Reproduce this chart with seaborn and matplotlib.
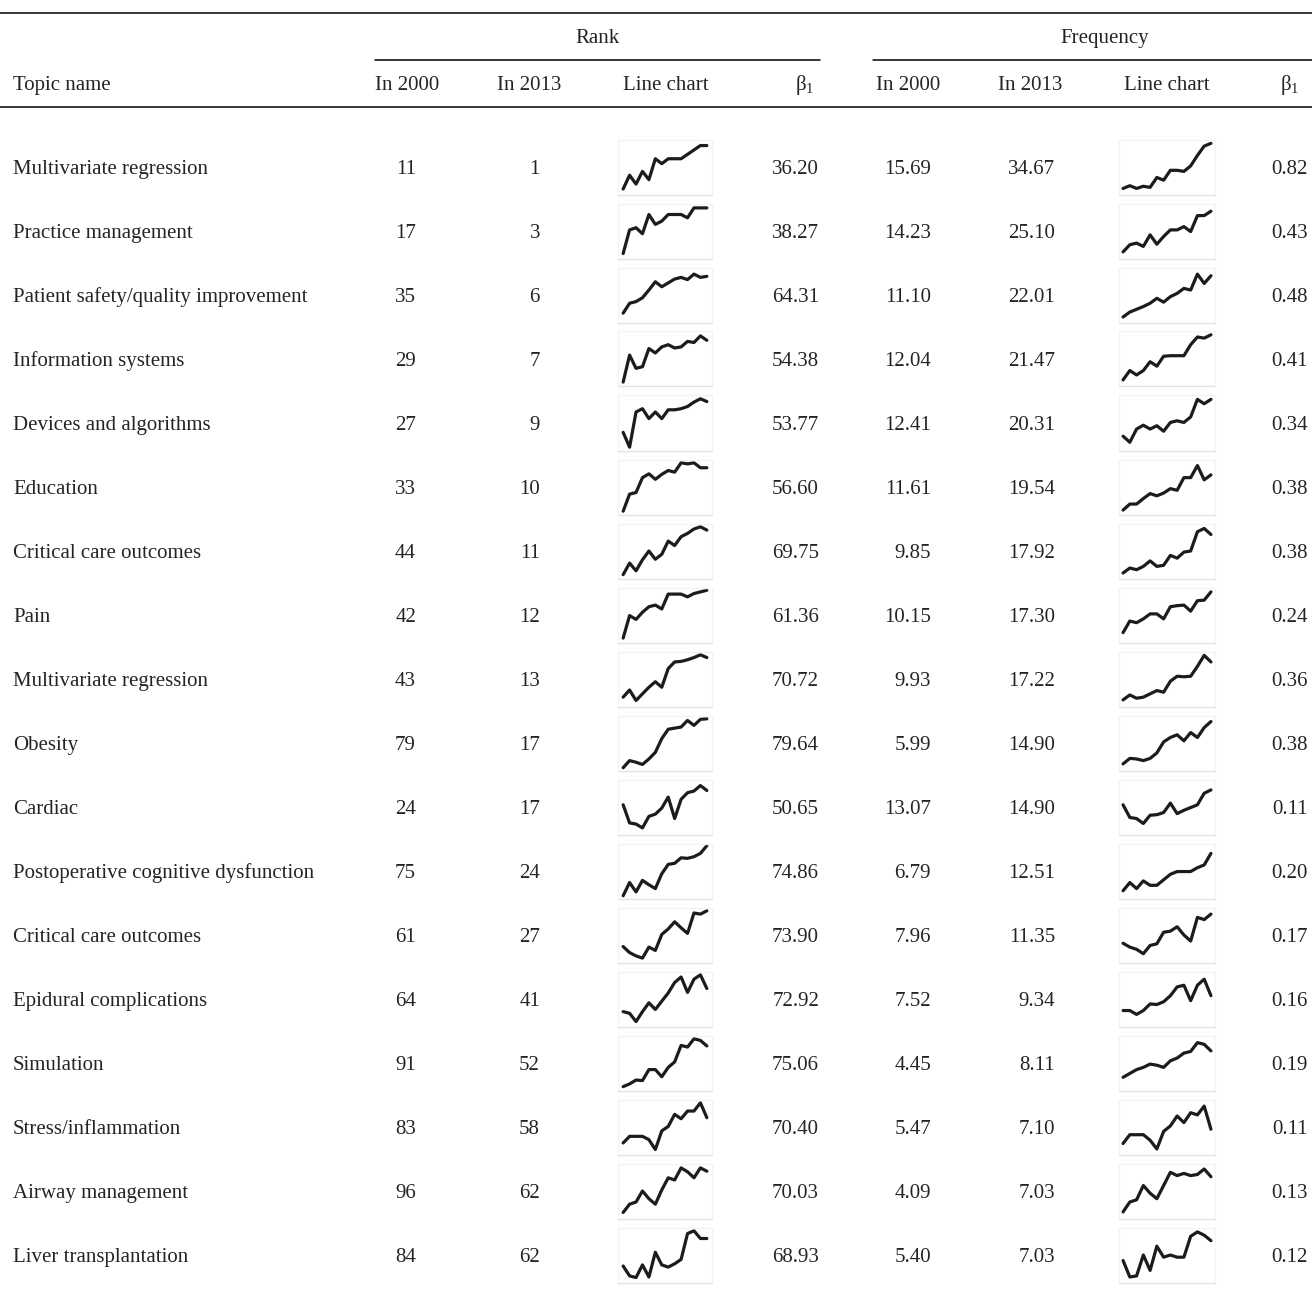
import matplotlib
matplotlib.use("Agg")
import matplotlib.pyplot as plt
import seaborn as sns

topics = ["Multivariate regression", "Practice management", "Patient safety/quality improvement",
          "Information systems", "Devices and algorithms", "Education", "Critical care outcomes",
          "Pain", "Multivariate regression", "Obesity", "Cardiac",
          "Postoperative cognitive dysfunction", "Critical care outcomes", "Epidural complications",
          "Simulation", "Stress/inflammation", "Airway management", "Liver transplantation"]

rank_2000 = [11, 17, 35, 29, 27, 33, 44, 42, 43, 79, 24, 75, 61, 64, 91, 83, 96, 84]
rank_2013 = [1, 3, 6, 7, 9, 10, 11, 12, 13, 17, 17, 24, 27, 41, 52, 58, 62, 62]
rank_beta = ["36.20", "38.27", "64.31", "54.38", "53.77", "56.60", "69.75", "61.36", "70.72",
             "79.64", "50.65", "74.86", "73.90", "72.92", "75.06", "70.40", "70.03", "68.93"]
freq_2000 = ["15.69", "14.23", "11.10", "12.04", "12.41", "11.61", "9.85", "10.15", "9.93",
             "5.99", "13.07", "6.79", "7.96", "7.52", "4.45", "5.47", "4.09", "5.40"]
freq_2013 = ["34.67", "25.10", "22.01", "21.47", "20.31", "19.54", "17.92", "17.30", "17.22",
             "14.90", "14.90", "12.51", "11.35", "9.34", "8.11", "7.10", "7.03", "7.03"]
freq_beta = ["0.82", "0.43", "0.48", "0.41", "0.34", "0.38", "0.38", "0.24", "0.36",
             "0.38", "0.11", "0.20", "0.17", "0.16", "0.19", "0.11", "0.13", "0.12"]

years = list(range(2000, 2014))

# sparkline heights (0 = bottom of box, 10 = top)
rank_lines = [
    [1.0, 3.5, 1.9, 4.2, 2.7, 6.5, 5.6, 6.5, 6.5, 6.5, 7.3, 8.1, 8.9, 8.9],
    [0.9, 5.2, 5.6, 4.5, 8.0, 6.2, 6.8, 8.0, 8.0, 8.0, 7.4, 9.2, 9.2, 9.2],
    [1.7, 3.5, 3.8, 4.5, 5.9, 7.4, 6.5, 7.2, 7.9, 8.2, 7.8, 8.8, 8.2, 8.4],
    [0.8, 5.7, 3.3, 3.6, 6.9, 6.1, 7.2, 7.6, 7.0, 7.2, 8.2, 8.0, 9.2, 8.4],
    [3.3, 0.6, 7.0, 7.6, 5.8, 7.0, 5.8, 7.4, 7.4, 7.6, 8.0, 8.8, 9.4, 8.9],
    [0.6, 3.7, 4.0, 6.7, 7.4, 6.4, 7.3, 8.0, 7.7, 9.4, 9.2, 9.4, 8.5, 8.5],
    [0.7, 2.8, 1.4, 3.4, 5.0, 3.5, 4.4, 6.8, 6.0, 7.6, 8.2, 9.0, 9.4, 8.8],
    [0.8, 4.9, 4.2, 5.5, 6.5, 6.8, 6.1, 8.8, 8.8, 8.8, 8.3, 8.9, 9.2, 9.5],
    [1.7, 3.0, 1.1, 2.3, 3.5, 4.5, 3.5, 6.9, 8.1, 8.2, 8.5, 8.9, 9.4, 8.9],
    [0.5, 1.8, 1.5, 1.1, 2.1, 3.3, 5.8, 7.5, 7.7, 7.9, 9.1, 8.2, 9.3, 9.4],
    [5.4, 2.1, 1.9, 1.2, 3.3, 3.7, 4.8, 6.8, 2.9, 6.4, 7.6, 7.9, 8.9, 8.0],
    [0.5, 2.9, 1.2, 3.3, 2.5, 1.8, 4.5, 6.2, 6.4, 7.4, 7.3, 7.6, 8.2, 9.6],
    [2.9, 1.8, 1.2, 0.8, 2.8, 2.2, 5.1, 6.1, 7.4, 6.3, 5.3, 9.0, 8.8, 9.4],
    [2.7, 2.4, 0.9, 2.7, 4.3, 3.1, 4.6, 6.1, 8.0, 9.0, 6.2, 8.6, 9.4, 6.9],
    [0.7, 1.2, 1.9, 1.8, 3.8, 3.8, 2.5, 4.2, 5.2, 8.2, 7.9, 9.4, 9.1, 8.1],
    [2.1, 3.3, 3.3, 3.3, 2.7, 0.9, 4.3, 5.1, 7.3, 6.5, 7.9, 7.9, 9.4, 6.7],
    [1.1, 2.6, 3.0, 5.0, 3.6, 2.6, 5.2, 7.4, 7.0, 9.2, 8.5, 7.4, 9.2, 8.6],
    [3.0, 1.2, 0.9, 3.2, 1.0, 5.5, 3.2, 2.8, 3.4, 4.2, 8.9, 9.4, 8.0, 8.0],
]

freq_lines = [
    [1.1, 1.6, 1.1, 1.5, 1.3, 3.1, 2.6, 4.4, 4.4, 4.2, 5.2, 7.1, 8.8, 9.3],
    [1.2, 2.5, 2.8, 2.2, 4.3, 2.6, 4.0, 5.2, 5.2, 5.8, 4.9, 7.8, 7.8, 8.6],
    [1.0, 1.9, 2.4, 2.9, 3.5, 4.4, 3.7, 4.7, 5.3, 6.2, 5.9, 8.8, 7.1, 8.5],
    [1.2, 2.9, 2.1, 2.9, 4.5, 3.7, 5.5, 5.6, 5.6, 5.6, 7.6, 9.0, 8.8, 9.4],
    [2.6, 1.5, 3.9, 4.6, 3.9, 4.5, 3.5, 5.1, 5.4, 5.1, 6.1, 9.3, 8.5, 9.3],
    [0.8, 1.9, 1.9, 2.9, 3.8, 3.4, 3.9, 4.7, 4.4, 6.7, 6.7, 8.9, 6.3, 7.2],
    [1.0, 1.9, 1.6, 2.2, 3.2, 2.2, 2.4, 4.2, 3.7, 4.8, 5.0, 8.5, 9.1, 8.0],
    [1.8, 3.9, 3.6, 4.3, 5.2, 5.2, 4.3, 6.5, 6.7, 6.8, 5.7, 7.6, 7.7, 9.2],
    [1.2, 2.1, 1.5, 1.7, 2.3, 2.9, 2.6, 4.6, 5.5, 5.4, 5.5, 7.3, 9.3, 8.1],
    [1.2, 2.2, 2.1, 1.8, 2.2, 3.2, 5.2, 6.0, 6.5, 5.4, 6.9, 6.0, 7.8, 8.9],
    [5.4, 3.1, 2.9, 2.0, 3.5, 3.6, 4.0, 5.7, 3.8, 4.4, 4.9, 5.4, 7.5, 8.1],
    [1.4, 2.9, 1.8, 3.2, 2.4, 2.4, 3.4, 4.4, 4.9, 4.9, 4.9, 5.6, 6.1, 8.2],
    [3.5, 2.8, 2.4, 1.6, 3.1, 3.4, 5.5, 5.7, 6.5, 5.0, 3.9, 8.2, 7.8, 8.8],
    [2.9, 2.9, 2.2, 2.9, 4.1, 4.0, 4.5, 5.6, 7.2, 7.5, 4.7, 7.5, 8.6, 5.6],
    [2.4, 3.1, 3.8, 4.2, 4.8, 4.6, 4.2, 5.4, 5.9, 6.8, 7.1, 8.7, 8.4, 7.2],
    [2.0, 3.6, 3.6, 3.6, 2.6, 1.0, 4.2, 5.2, 7.0, 5.8, 7.6, 7.2, 8.8, 4.6],
    [1.2, 3.0, 3.4, 6.0, 4.6, 3.6, 6.0, 8.4, 7.8, 8.2, 7.8, 8.0, 9.0, 7.6],
    [4.0, 1.0, 1.2, 5.0, 2.2, 6.6, 4.6, 5.0, 4.6, 4.6, 8.4, 9.2, 8.6, 7.6],
]

sns.set_style("white")
plt.rcParams['font.family'] = ['Liberation Serif', 'DejaVu Serif']
plt.rcParams['mathtext.fontset'] = 'custom'
plt.rcParams['mathtext.rm'] = 'Liberation Serif'

W, H = 1312, 1299
fig = plt.figure(figsize=(W / 100, H / 100), dpi=100)
ink = '#262324'
fs = 15


def fx(x):
    return x / W


def fy(y):
    return 1 - y / H


def txt(x, y, s, ha='center'):
    fig.text(fx(x), fy(y), s, ha=ha, va='baseline', fontsize=fs, color=ink)


def rule(x0, x1, y, lw=1.1):
    fig.add_artist(plt.Line2D([fx(x0), fx(x1)], [fy(y), fy(y)], color='black', lw=lw))


# rules
rule(0, W, 13)
rule(375, 820, 60)
rule(873, W, 60)
rule(0, W, 107)

# headers
beta = r"$\mathregular{\beta_1}$"
txt(598, 43, "Rank")
txt(1105, 43, "Frequency")
txt(13, 90, "Topic name", ha='left')
for cx, lab in [(407, "In 2000"), (529, "In 2013"), (666, "Line chart"), (805, beta),
                (908, "In 2000"), (1030, "In 2013"), (1167, "Line chart"), (1290, beta)]:
    txt(cx, 90, lab)


def spark(x0, x1, yc, vals, pad):
    ax = fig.add_axes([fx(x0), fy(yc + 27.5), (x1 - x0) / W, 55 / H])
    sns.lineplot(x=years, y=vals, ax=ax, color='#1c1c1c', linewidth=2.3)
    ax.set_xlim(years[0] - pad, years[-1] + pad)
    ax.set_ylim(0, 10)
    ax.set_xticks([])
    ax.set_yticks([])
    ax.set_xlabel("")
    ax.set_ylabel("")
    for side, sp in ax.spines.items():
        sp.set_visible(True)
        sp.set_linewidth(1.0)
        sp.set_color('#e3e3e3' if side == 'bottom' else '#f4f4f4')


for i, name in enumerate(topics):
    yc = 167 + 64 * i
    yb = yc + 7
    txt(13, yb, name, ha='left')
    txt(416, yb, str(rank_2000[i]), ha='right')
    txt(540, yb, str(rank_2013[i]), ha='right')
    txt(819, yb, rank_beta[i], ha='right')
    txt(931, yb, freq_2000[i], ha='right')
    txt(1055, yb, freq_2013[i], ha='right')
    txt(1308, yb, freq_beta[i], ha='right')
    spark(618, 712, yc, rank_lines[i], 0.8)
    spark(1119, 1215, yc, freq_lines[i], 0.6)

fig.savefig("out.png", dpi=100)
